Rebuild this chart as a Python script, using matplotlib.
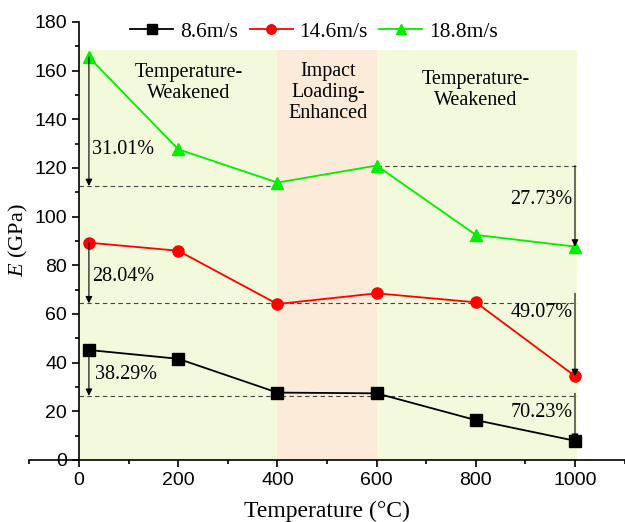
import matplotlib.pyplot as plt
from matplotlib.ticker import MultipleLocator
import numpy as np

temps = [20, 200, 400, 600, 800, 1000]
e_86 = [45.2, 41.6, 27.7, 27.4, 16.4, 7.9]
e_146 = [89.3, 86.0, 64.1, 68.5, 64.8, 34.5]
e_188 = [165.5, 127.7, 114.0, 121.0, 92.5, 87.7]
labels = ["8.6m/s", "14.6m/s", "18.8m/s"]

# reference levels for the drop arrows
left_levels = [26.4, 64.4, 112.6]
right_levels = [27.4, 68.5, 121.0]
left_pct = ["38.29%", "28.04%", "31.01%"]
right_pct = ["70.23%", "49.07%", "27.73%"]

serif = ["Liberation Serif", "DejaVu Serif"]
sans = ["Liberation Sans", "DejaVu Sans"]
plt.rcParams["mathtext.fontset"] = "custom"
plt.rcParams["mathtext.it"] = "Liberation Serif:italic"
plt.rcParams["mathtext.rm"] = "Liberation Serif"

fig = plt.figure(figsize=(6.25, 5.22), dpi=100)
ax = fig.add_axes([29.4/625, 62/522, 595.2/625, 438/522])

# shaded regions
ax.axvspan(0, 400, ymin=0, ymax=168.5/180, color="#f2fadb", lw=0)
ax.axvspan(400, 600, ymin=0, ymax=168.5/180, color="#fcebd8", lw=0)
ax.axvspan(600, 1005, ymin=0, ymax=168.5/180, color="#f2fadb", lw=0)

# dashed reference lines
dash = dict(ls=(0, (4, 3)), color="#444444", lw=0.8)
ax.plot([0, 400], [left_levels[2]]*2, **dash)
ax.plot([0, 1005], [left_levels[1]]*2, **dash)
ax.plot([0, 1005], [left_levels[0]]*2, **dash)
ax.plot([600, 1005], [right_levels[2]]*2, **dash)

ax.plot(temps, e_86, "-s", color="black", mfc="black", ms=8, lw=1.3, label=labels[0])
ax.plot(temps, e_146, "-o", color="red", mfc="red", ms=8, lw=1.3, label=labels[1])
ax.plot(temps, e_188, "-^", color="#00ee00", mfc="#00ee00", ms=9, lw=1.3, label=labels[2])

# arrows
starts_left = [e_86[0], e_146[0], e_188[0]]
ends_right = [e_86[-1], e_146[-1], e_188[-1]]
for i in range(3):
    ax.annotate("", xy=(20, left_levels[i]), xytext=(20, starts_left[i]),
                arrowprops=dict(arrowstyle="-|>", color="black", lw=0.8,
                                mutation_scale=10, shrinkA=0, shrinkB=0))
    ax.annotate("", xy=(1000, ends_right[i]), xytext=(1000, right_levels[i]),
                arrowprops=dict(arrowstyle="-|>", color="black", lw=0.8,
                                mutation_scale=10, shrinkA=0, shrinkB=0))

fs = 14.5
ax.text(27, 127.5, left_pct[2], fontsize=fs, family=serif, va="center")
ax.text(27, 75.4, left_pct[1], fontsize=fs, family=serif, va="center")
ax.text(32, 35, left_pct[0], fontsize=fs, family=serif, va="center")
ax.text(995, 107, right_pct[2], fontsize=fs, family=serif, va="center", ha="right")
ax.text(995, 60.5, right_pct[1], fontsize=fs, family=serif, va="center", ha="right")
ax.text(995, 19.5, right_pct[0], fontsize=fs, family=serif, va="center", ha="right")

ax.text(222, 155, "Temperature-\nWeakened", fontsize=fs, family=serif, ha="center", va="center", linespacing=1.15)
ax.text(503, 151, "Impact\nLoading-\nEnhanced", fontsize=fs, family=serif, ha="center", va="center", linespacing=1.15)
ax.text(800, 152, "Temperature-\nWeakened", fontsize=fs, family=serif, ha="center", va="center", linespacing=1.15)

ax.set_xlim(-100, 1100)
ax.set_ylim(0, 180)
ax.spines["left"].set_position(("data", 0))
ax.spines["top"].set_visible(False)
ax.spines["right"].set_visible(False)
ax.spines["left"].set_linewidth(1.2)
ax.spines["bottom"].set_linewidth(1.2)
ax.set_xticks(np.arange(0, 1001, 200))
ax.xaxis.set_minor_locator(MultipleLocator(100))
ax.yaxis.set_major_locator(MultipleLocator(20))
ax.yaxis.set_minor_locator(MultipleLocator(10))
ax.tick_params(which="both", direction="out", width=1.2)
ax.tick_params(which="major", length=5, labelsize=14)
ax.tick_params(which="minor", length=3)
for t in ax.get_xticklabels() + ax.get_yticklabels():
    t.set_family(sans)

ax.set_xlabel("Temperature (°C)", fontsize=17, family=serif, labelpad=9)

ax.legend(loc="upper center", ncol=3, frameon=False, bbox_to_anchor=(0.478, 1.045),
          prop={"family": serif, "size": 15.5}, handlelength=2.0,
          columnspacing=0.55, handletextpad=0.3, markerscale=0.85)

fig.text(18/625, 1 - 240/522, "$\\mathit{E}$ (GPa)", fontsize=16, family=serif,
         rotation=90, ha="center", va="center")

plt.savefig("out.png", dpi=100)
